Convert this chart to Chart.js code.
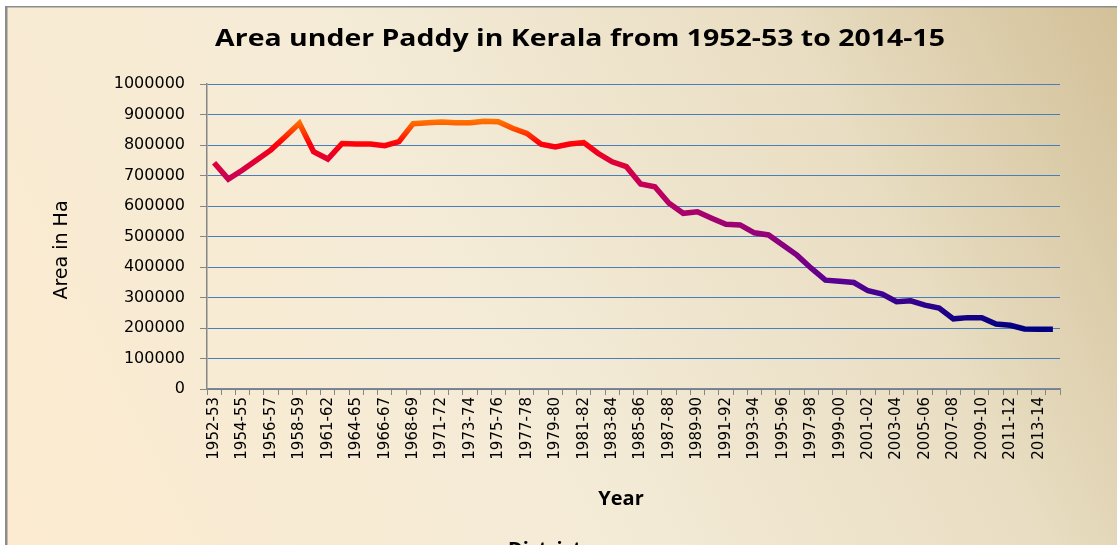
<!DOCTYPE html>
<html>
<head>
<meta charset="utf-8">
<script src="https://cdn.jsdelivr.net/npm/chart.js@4.4.1/dist/chart.umd.min.js"></script>
<style>
  html, body { margin: 0; padding: 0; background: #fff; }
  #wrap { width: 1117px; height: 545px; position: relative; }
</style>
</head>
<body>
<div id="wrap"><canvas id="paddyChart"></canvas></div>
<script>
// years shown on the x axis (a few seasons are missing in the source table)
const years = [
  "1952-53","1953-54","1954-55","1955-56","1956-57","1957-58","1958-59","1959-60",
  "1961-62","1962-63","1964-65","1965-66","1966-67","1967-68","1968-69","1969-70",
  "1971-72","1972-73","1973-74","1974-75","1975-76","1976-77","1977-78","1978-79",
  "1979-80","1980-81","1981-82","1982-83","1983-84","1984-85","1985-86","1986-87",
  "1987-88","1988-89","1989-90","1990-91","1991-92","1992-93","1993-94","1994-95",
  "1995-96","1996-97","1997-98","1998-99","1999-00","2000-01","2001-02","2002-03",
  "2003-04","2004-05","2005-06","2006-07","2007-08","2008-09","2009-10","2010-11",
  "2011-12","2012-13","2013-14","2014-15"
];

// area under paddy, in hectares
const areaHa = [
  742000, 688000, 718000, 751000, 784000, 827000, 871000, 778000,
  754000, 805000, 803000, 803000, 798000, 811000, 870000, 873000,
  875000, 873000, 873000, 878000, 876000, 855000, 838000, 803000,
  794000, 803000, 808000, 773000, 745000, 729000, 672000, 663000,
  609000, 576000, 581000, 560000, 540000, 538000, 512000, 505000,
  472000, 439000, 396000, 357000, 353000, 349000, 322000, 311000,
  286000, 289000, 275000, 265000, 230000, 234000, 234000, 213000,
  209000, 197000, 196000, 196000
];

// y axis tick labels
const yTicks = [0, 100000, 200000, 300000, 400000, 500000, 600000, 700000, 800000, 900000, 1000000];

const titleText = "Area under Paddy in Kerala from 1952-53 to 2014-15";
const xTitle = "Year";
const yTitle = "Area in Ha";

// line colour follows the value: orange at the top, navy at the bottom
const colourStops = [
  [880000, "#ff7400"], [840000, "#ff3800"], [805000, "#ff0008"], [760000, "#e6002e"],
  [700000, "#cc0050"], [600000, "#b00068"], [500000, "#92007a"], [400000, "#700088"],
  [350000, "#560094"], [280000, "#30008c"], [200000, "#000080"]
];

function lineGradient(chart) {
  const y = chart.scales.y;
  if (!chart.chartArea || !y) return "#cc0050";
  const top = y.getPixelForValue(colourStops[0][0]);
  const bot = y.getPixelForValue(colourStops[colourStops.length - 1][0]);
  const g = chart.ctx.createLinearGradient(0, top, 0, bot);
  colourStops.forEach(s => {
    g.addColorStop((y.getPixelForValue(s[0]) - top) / (bot - top), s[1]);
  });
  return g;
}

const decor = {
  id: "decor",
  beforeDraw(chart) {
    const { ctx, width, height } = chart;
    ctx.save();
    const bg = ctx.createLinearGradient(0, height, width, 0);
    bg.addColorStop(0, "#fcebd0");
    bg.addColorStop(0.45, "#f4ebd7");
    bg.addColorStop(0.75, "#e9dec3");
    bg.addColorStop(1, "#d2c098");
    ctx.fillStyle = bg;
    ctx.fillRect(0, 0, width, height);
    // white margin and grey frame at top/left
    ctx.fillStyle = "#ffffff";
    ctx.fillRect(0, 0, width, 6);
    ctx.fillRect(0, 0, 5, height);
    ctx.fillStyle = "#8c8c8c";
    ctx.fillRect(5, 6, width - 5, 1.5);
    ctx.fillRect(5, 6, 2.5, height - 6);
    ctx.restore();
  },
  afterDraw(chart) {
    const { ctx } = chart;
    ctx.save();
    ctx.fillStyle = "#000";
    ctx.textAlign = "center";
    ctx.textBaseline = "alphabetic";
    // the original title is drawn a bit wider than the font
    ctx.save();
    ctx.translate(580, 46);
    ctx.scale(1.185, 1);
    ctx.font = "bold 24px 'Open Sans'";
    ctx.fillText(titleText, 0, 0);
    ctx.restore();
    ctx.font = "bold 20px 'Open Sans'";
    ctx.fillText(xTitle, 621, 505);
    ctx.textAlign = "left";
    ctx.fillText("District", 508, 556);
    ctx.translate(62, 250);
    ctx.rotate(-Math.PI / 2);
    ctx.textAlign = "center";
    ctx.textBaseline = "middle";
    ctx.font = "19px 'DejaVu Sans'";
    ctx.fillText(yTitle, 0, 0);
    ctx.restore();
  }
};

const ctx = document.getElementById("paddyChart").getContext("2d");
new Chart(ctx, {
  type: "line",
  data: {
    labels: years,
    datasets: [{
      label: "Area in Ha",
      data: areaHa,
      borderColor: c => lineGradient(c.chart),
      borderWidth: 5.5,
      pointRadius: 0,
      tension: 0,
      fill: false
    }]
  },
  options: {
    responsive: true,
    maintainAspectRatio: false,
    animation: false,
    layout: { padding: { left: 20, right: 57, top: 84, bottom: 0 } },
    plugins: {
      legend: { display: false },
      title: { display: false },
      tooltip: { enabled: false }
    },
    scales: {
      x: {
        offset: true,
        grid: { offset: true, drawOnChartArea: false, tickLength: 6, tickColor: "#868686" },
        border: { color: "#868686", width: 1.5 },
        ticks: {
          autoSkip: false,
          maxRotation: 90,
          minRotation: 90,
          padding: 2,
          color: "#000",
          font: { family: "DejaVu Sans", size: 15 },
          callback: (v, i) => (i % 2 === 0 ? years[i] : "")
        },
        afterFit: s => { s.height = 156; }
      },
      y: {
        min: yTicks[0],
        max: yTicks[yTicks.length - 1],
        afterBuildTicks: s => { s.ticks = yTicks.map(v => ({ value: v })); },
        grid: { color: "#4a7ebb", lineWidth: 1, tickLength: 7, tickColor: "#868686" },
        border: { color: "#868686", width: 1.5 },
        ticks: {
          padding: 15,
          color: "#000",
          font: { family: "DejaVu Sans", size: 16 },
          callback: v => String(v)
        },
        afterFit: s => { s.width = 187; }
      }
    }
  },
  plugins: [decor]
});
</script>
</body>
</html>
